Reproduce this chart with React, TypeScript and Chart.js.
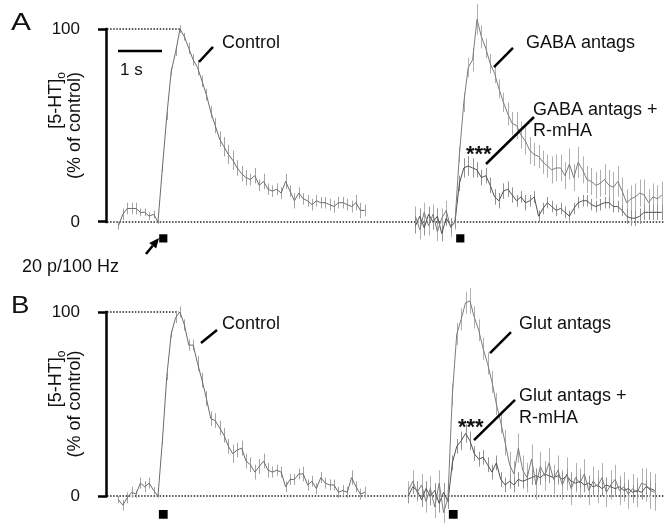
import React, { useEffect, useRef } from 'react';
import { Chart, registerables } from 'chart.js';

Chart.register(...registerables);

const FONT = 'Arial, "Liberation Sans", Helvetica, sans-serif';

// time relative to stimulus onset (s)
const TIME = [-0.9, -0.8, -0.7, -0.6, -0.5, -0.4, -0.3, -0.2, -0.1, 0.0,
  0.1, 0.2, 0.3, 0.4, 0.5, 0.6, 0.7, 0.8, 0.9, 1.0,
  1.1, 1.2, 1.3, 1.4, 1.5, 1.6, 1.7, 1.8, 1.9, 2.0,
  2.1, 2.2, 2.3, 2.4, 2.5, 2.6, 2.7, 2.8, 2.9, 3.0,
  3.1, 3.2, 3.3, 3.4, 3.5, 3.6, 3.7, 3.8, 3.9, 4.0,
  4.1, 4.2, 4.3, 4.4, 4.5, 4.6, 4.7];

// Panel A
const A_CONTROL = [-2, 4, 7, 7, 7, 5, 5, 3, 4, 0,
  28, 55, 78, 88, 100, 96, 90, 84, 80, 73,
  66, 57, 50, 43, 39, 35, 32, 28, 25, 23,
  22, 24, 19, 21, 17, 16, 17, 15, 21, 16,
  11, 15, 12, 11, 9, 11, 10, 10, 9, 8,
  10, 10, 9, 8, 10, 6, 6];
const A_CONTROL_ERR = [2, 3, 3, 3, 3, 2, 2, 2, 2, 1,
  2, 2, 2, 2, 2, 2, 3, 3, 4, 3,
  3, 3, 4, 4, 5, 5, 5, 4, 4, 4,
  3, 4, 3, 4, 3, 3, 3, 3, 4, 3,
  4, 3, 3, 3, 3, 3, 3, 3, 3, 3,
  3, 3, 3, 3, 4, 4, 3];
const A_GABA = [3, -4, 5, -2, 4, -5, 2, 6, -3, 0,
  35, 62, 80, 84, 105, 96, 90, 82, 77, 69,
  62, 56, 51, 50, 45, 42, 37, 35, 34, 31,
  29, 27, 28, 28, 24, 30, 23, 31, 27, 22,
  21, 19, 20, 22, 19, 18, 21, 16, 10, 12,
  13, 15, 14, 10, 13, 12, 14];
const A_GABA_ERR = [5, 5, 5, 5, 5, 5, 5, 5, 5, 4,
  4, 5, 5, 6, 8, 6, 5, 5, 5, 5,
  5, 6, 6, 7, 7, 7, 7, 6, 6, 6,
  6, 7, 7, 7, 7, 8, 7, 8, 7, 7,
  7, 7, 7, 8, 8, 8, 8, 7, 7, 7,
  7, 7, 8, 7, 7, 7, 7];
const A_GABA_RMHA = [-2, 3, -3, 4, 0, 3, -6, 2, -2, 0,
  20, 28, 29, 28, 27, 23, 24, 19, 13, 11,
  16, 17, 14, 11, 13, 10, 11, 13, 3, 7,
  10, 8, 6, 7, 5, 3, 7, 10, 11, 11,
  9, 8, 9, 10, 10, 8, 8, 6, 3, 2,
  2, 3, 5, 5, 5, 5, 5];
const A_GABA_RMHA_ERR = [4, 4, 4, 4, 4, 4, 4, 4, 4, 3,
  4, 5, 5, 5, 4, 4, 4, 4, 4, 4,
  4, 4, 4, 3, 3, 4, 3, 3, 3, 3,
  3, 3, 3, 3, 3, 3, 3, 3, 3, 3,
  3, 3, 3, 3, 3, 3, 3, 3, 4, 4,
  4, 4, 4, 4, 4, 4, 4];

// Panel B
const B_CONTROL = [-2, -5, -1, 2, 1, 7, 5, 7, 3, 0,
  30, 65, 88, 97, 100, 93, 82, 82, 72, 63,
  53, 42, 41, 37, 33, 27, 23, 25, 26, 19,
  17, 13, 16, 19, 14, 13, 14, 13, 5, 9,
  9, 12, 12, 6, 8, 4, 10, 7, 6, 6,
  2, 3, 2, 10, 5, 1, 2];
const B_CONTROL_ERR = [2, 3, 3, 3, 2, 3, 3, 3, 2, 1,
  2, 2, 2, 3, 3, 3, 3, 3, 4, 4,
  4, 4, 4, 4, 4, 4, 5, 4, 4, 4,
  4, 4, 4, 4, 4, 3, 3, 3, 3, 3,
  3, 3, 4, 3, 3, 3, 3, 3, 3, 3,
  3, 3, 3, 4, 3, 3, 3];
const B_GLUT = [3, 8, 2, 6, -3, 4, -6, 7, -9, -1,
  55, 88, 96, 105, 106, 97, 90, 80, 72, 62,
  50, 40, 29, 17, 12, 26, 14, 10, 20, 6,
  16, 11, 18, 9, 14, 6, 12, 4, 10, 7,
  12, 3, 8, 5, 10, 2, 6, 9, 3, 5,
  1, 4, 2, 7, 6, 3, 2];
const B_GLUT_ERR = [5, 6, 5, 6, 6, 7, 6, 7, 7, 6,
  6, 6, 6, 6, 7, 6, 6, 6, 6, 6,
  6, 6, 7, 7, 7, 8, 8, 8, 8, 8,
  8, 8, 8, 8, 8, 8, 9, 9, 8, 8,
  8, 8, 8, 9, 8, 8, 8, 8, 8, 8,
  8, 8, 8, 8, 9, 10, 10];
const B_GLUT_RMHA = [0, 5, 3, -2, 4, 0, 3, -4, 2, -3,
  18, 27, 30, 34, 30, 23, 20, 21, 17, 13,
  18, 9, 6, 8, 6, 9, 8, 9, 10, 11,
  10, 12, 11, 10, 11, 9, 11, 8, 7, 8,
  6, 7, 5, 6, 4, 6, 5, 4, 5, 3,
  4, 2, 3, 2, 5, 4, 3];
const B_GLUT_RMHA_ERR = [4, 4, 5, 4, 4, 5, 4, 5, 5, 4,
  4, 4, 5, 5, 5, 4, 4, 4, 4, 4,
  4, 4, 4, 4, 4, 4, 4, 4, 4, 4,
  4, 4, 4, 4, 4, 4, 4, 4, 4, 4,
  4, 4, 4, 4, 4, 4, 4, 4, 4, 4,
  4, 4, 4, 4, 4, 4, 4];

const Y_TICKS = [0, 100];
const STIM_MARK_T = 0.12;

// layout constants
const X_MIN = -1.159;
const X_MAX = 11.5;
const Y_MIN = -14;
const Y_MAX = 114;

type Txt = { t: number; v: number; text: string; font?: string; scaleX?: number };
type Seg = { a: [number, number]; b: [number, number]; w?: number };

type Panel = {
  control: number[]; controlErr: number[];
  drug: number[]; drugErr: number[];
  drugR: number[]; drugRErr: number[];
  offset: number; markY: number; markR: number;
  padTop: number; padBottom: number; height: number; top: number;
  dotted100To: number;
  texts: Txt[]; segs: Seg[]; arrow?: Seg;
};

const PANEL_A: Panel = {
  control: A_CONTROL, controlErr: A_CONTROL_ERR,
  drug: A_GABA, drugErr: A_GABA_ERR,
  drugR: A_GABA_RMHA, drugRErr: A_GABA_RMHA_ERR,
  offset: 6.75, markY: -8.5, markR: 5.8,
  padTop: 2, padBottom: 31, height: 280, top: 0,
  dotted100To: 0.5,
  texts: [
    { t: -3.341, v: 99.5, text: 'A', font: `23px ${FONT}`, scaleX: 1.3 },
    { t: 1.455, v: 90.2, text: 'Control' },
    { t: 8.364, v: 90.2, text: 'GABA antags' },
    { t: 8.523, v: 55.7, text: 'GABA antags +' },
    { t: 8.523, v: 44.8, text: 'R-mHA' },
    { t: 7.0, v: 31.5, text: '***', font: `bold 22px ${FONT}` },
    { t: -0.864, v: 76.2, text: '1 s', font: `17px ${FONT}` },
    { t: -3.09, v: -25.9, text: '20 p/100 Hz' },
  ],
  segs: [
    { a: [0.932, 82.9], b: [1.25, 90.7] },
    { a: [7.636, 80.3], b: [8.068, 90.2] },
    { a: [7.455, 30.05], b: [8.545, 54.4] },
    { a: [-0.909, 88.6], b: [0.091, 88.6] },
  ],
  arrow: { a: [-0.273, -16.6], b: [0.023, -8.3] },
};

const PANEL_B: Panel = {
  control: B_CONTROL, controlErr: B_CONTROL_ERR,
  drug: B_GLUT, drugErr: B_GLUT_ERR,
  drugR: B_GLUT_RMHA, drugRErr: B_GLUT_RMHA_ERR,
  offset: 6.59, markY: -10, markR: 6.2,
  padTop: 6.24, padBottom: 1.24, height: 243, top: 280,
  dotted100To: 0.47,
  texts: [
    { t: -3.341, v: 99.5, text: 'B', font: `23px ${FONT}`, scaleX: 1.2 },
    { t: 1.455, v: 90.8, text: 'Control' },
    { t: 8.205, v: 90.8, text: 'Glut antags' },
    { t: 8.205, v: 51.9, text: 'Glut antags +' },
    { t: 8.205, v: 39.7, text: 'R-mHA' },
    { t: 6.818, v: 33.5, text: '***', font: `bold 22px ${FONT}` },
  ],
  segs: [
    { a: [0.977, 83.2], b: [1.341, 90.2] },
    { a: [7.545, 77.7], b: [8.023, 89.1] },
    { a: [7.182, 30.4], b: [8.114, 52.2] },
  ],
};

function makeAnnot(p: Panel) {
  return {
    id: 'annot',
    beforeDatasetsDraw(chart: any) {
      const { ctx, chartArea } = chart;
      const xs = chart.scales.x, ys = chart.scales.y;
      const Y = (v: number) => ys.getPixelForValue(v);
      ctx.save();
      ctx.strokeStyle = '#222';
      ctx.lineWidth = 1.5;
      ctx.setLineDash([1.5, 1.6]);
      ctx.beginPath();
      ctx.moveTo(chartArea.left, Y(0));
      ctx.lineTo(chartArea.right, Y(0));
      ctx.stroke();
      ctx.beginPath();
      ctx.moveTo(chartArea.left, Y(100));
      ctx.lineTo(xs.getPixelForValue(p.dotted100To), Y(100));
      ctx.stroke();
      ctx.setLineDash([]);
      chart.data.datasets.forEach((ds: any, i: number) => {
        if (!ds.errors) return;
        const meta = chart.getDatasetMeta(i);
        ctx.strokeStyle = ds.errColor;
        ctx.lineWidth = 1;
        meta.data.forEach((el: any, j: number) => {
          const v = ds.data[j].y, e = ds.errors[j];
          const x = Math.round(el.x) + 0.5;
          ctx.beginPath();
          ctx.moveTo(x, Y(v - e));
          ctx.lineTo(x, Y(v + e));
          ctx.stroke();
        });
      });
      ctx.restore();
    },
    afterDraw(chart: any) {
      const { ctx, chartArea } = chart;
      const xs = chart.scales.x, ys = chart.scales.y;
      const X = (t: number) => xs.getPixelForValue(t);
      const Y = (v: number) => ys.getPixelForValue(v);
      ctx.save();
      // y axis line between 0 and 100
      ctx.strokeStyle = '#000';
      ctx.lineWidth = 2.5;
      ctx.beginPath();
      ctx.moveTo(chartArea.left - 0.5, Y(0) + 1.2);
      ctx.lineTo(chartArea.left - 0.5, Y(100) - 1.2);
      ctx.stroke();
      // pointer lines and scale bar
      ctx.lineCap = 'butt';
      for (const s of p.segs) {
        ctx.lineWidth = s.w || 2.5;
        ctx.beginPath();
        ctx.moveTo(X(s.a[0]), Y(s.a[1]));
        ctx.lineTo(X(s.b[0]), Y(s.b[1]));
        ctx.stroke();
      }
      // arrow
      if (p.arrow) {
        const x1 = X(p.arrow.a[0]), y1 = Y(p.arrow.a[1]);
        const x2 = X(p.arrow.b[0]), y2 = Y(p.arrow.b[1]);
        const ang = Math.atan2(y2 - y1, x2 - x1);
        const hl = 10, hw = 4.5;
        const bx = x2 - hl * Math.cos(ang), by = y2 - hl * Math.sin(ang);
        ctx.lineWidth = 2.5;
        ctx.beginPath();
        ctx.moveTo(x1, y1);
        ctx.lineTo(bx, by);
        ctx.stroke();
        ctx.fillStyle = '#000';
        ctx.beginPath();
        ctx.moveTo(x2, y2);
        ctx.lineTo(bx + hw * Math.sin(ang), by - hw * Math.cos(ang));
        ctx.lineTo(bx - hw * Math.sin(ang), by + hw * Math.cos(ang));
        ctx.closePath();
        ctx.fill();
      }
      // texts
      ctx.fillStyle = '#111';
      ctx.textBaseline = 'alphabetic';
      ctx.textAlign = 'left';
      for (const t of p.texts) {
        ctx.font = t.font || `18px ${FONT}`;
        const x = X(t.t), y = Y(t.v);
        if (t.scaleX) {
          ctx.save();
          ctx.translate(x, y);
          ctx.scale(t.scaleX, 1);
          ctx.fillText(t.text, 0, 0);
          ctx.restore();
        } else {
          ctx.fillText(t.text, x, y);
        }
      }
      // y title
      const cy = Y(50);
      ctx.font = `18px ${FONT}`;
      const l2 = '(% of control)';
      const w2 = ctx.measureText(l2).width;
      const top = cy - w2 / 2;
      ctx.save();
      ctx.translate(80, top);
      ctx.rotate(-Math.PI / 2);
      ctx.textAlign = 'right';
      ctx.fillText(l2, 0, 0);
      ctx.restore();
      ctx.save();
      ctx.translate(61, top);
      ctx.rotate(-Math.PI / 2);
      ctx.font = `12px ${FONT}`;
      const wo = ctx.measureText('o').width;
      ctx.textAlign = 'left';
      ctx.fillText('o', -wo, 4);
      ctx.font = `18px ${FONT}`;
      const w1 = ctx.measureText('[5-HT]').width;
      ctx.fillText('[5-HT]', -(w1 + wo), 0);
      ctx.restore();
      ctx.restore();
    },
  };
}

function buildConfig(p: Panel): any {
  const mk = (vals: number[], errs: number[], offset: number, color: string, errColor: string) => ({
    data: TIME.map((t, i) => ({ x: t + offset, y: vals[i] })),
    borderColor: color,
    borderWidth: 1,
    pointRadius: 0,
    tension: 0,
    fill: false,
    errors: errs,
    errColor,
  });
  return {
    type: 'line',
    data: {
      datasets: [
        mk(p.control, p.controlErr, 0, '#6c6c6c', '#a4a4a4'),
        mk(p.drug, p.drugErr, p.offset, '#7c7c7c', '#b0b0b0'),
        mk(p.drugR, p.drugRErr, p.offset, '#505050', '#929292'),
        {
          data: [
            { x: STIM_MARK_T, y: p.markY },
            { x: STIM_MARK_T + p.offset, y: p.markY },
          ],
          showLine: false,
          pointStyle: 'rect',
          pointRadius: p.markR,
          backgroundColor: '#000',
          borderColor: '#000',
          borderWidth: 0,
        },
      ],
    },
    options: {
      responsive: false,
      maintainAspectRatio: false,
      animation: false,
      events: [],
      layout: { autoPadding: false, padding: { left: 0, right: 0, top: p.padTop, bottom: p.padBottom } },
      plugins: { legend: { display: false }, tooltip: { enabled: false }, title: { display: false } },
      scales: {
        x: { type: 'linear', display: false, min: X_MIN, max: X_MAX },
        y: {
          type: 'linear',
          min: Y_MIN,
          max: Y_MAX,
          afterBuildTicks: (s: any) => { s.ticks = Y_TICKS.map((v) => ({ value: v })); },
          afterFit: (s: any) => {
            s.width = 107;
            s.paddingTop = 0;
            s.paddingBottom = 0;
          },
          grid: { display: true, drawOnChartArea: false, drawTicks: true, tickLength: 9, tickWidth: 2.5, tickColor: '#000' },
          border: { display: false },
          ticks: { padding: 18, color: '#111', font: { family: FONT, size: 17 } },
        },
      },
    },
    plugins: [makeAnnot(p)],
  };
}

export default function App() {
  const refA = useRef<HTMLCanvasElement | null>(null);
  const refB = useRef<HTMLCanvasElement | null>(null);
  useEffect(() => {
    const ca = new Chart(refA.current as HTMLCanvasElement, buildConfig(PANEL_A));
    const cb = new Chart(refB.current as HTMLCanvasElement, buildConfig(PANEL_B));
    return () => { ca.destroy(); cb.destroy(); };
  }, []);
  return (
    <div style={{ position: 'absolute', left: 0, top: 0, width: 664, height: 523, background: '#fff', overflow: 'hidden' }}>
      <canvas ref={refA} width={664} height={PANEL_A.height}
        style={{ position: 'absolute', left: 0, top: PANEL_A.top, width: 664, height: PANEL_A.height }} />
      <canvas ref={refB} width={664} height={PANEL_B.height}
        style={{ position: 'absolute', left: 0, top: PANEL_B.top, width: 664, height: PANEL_B.height }} />
    </div>
  );
}
